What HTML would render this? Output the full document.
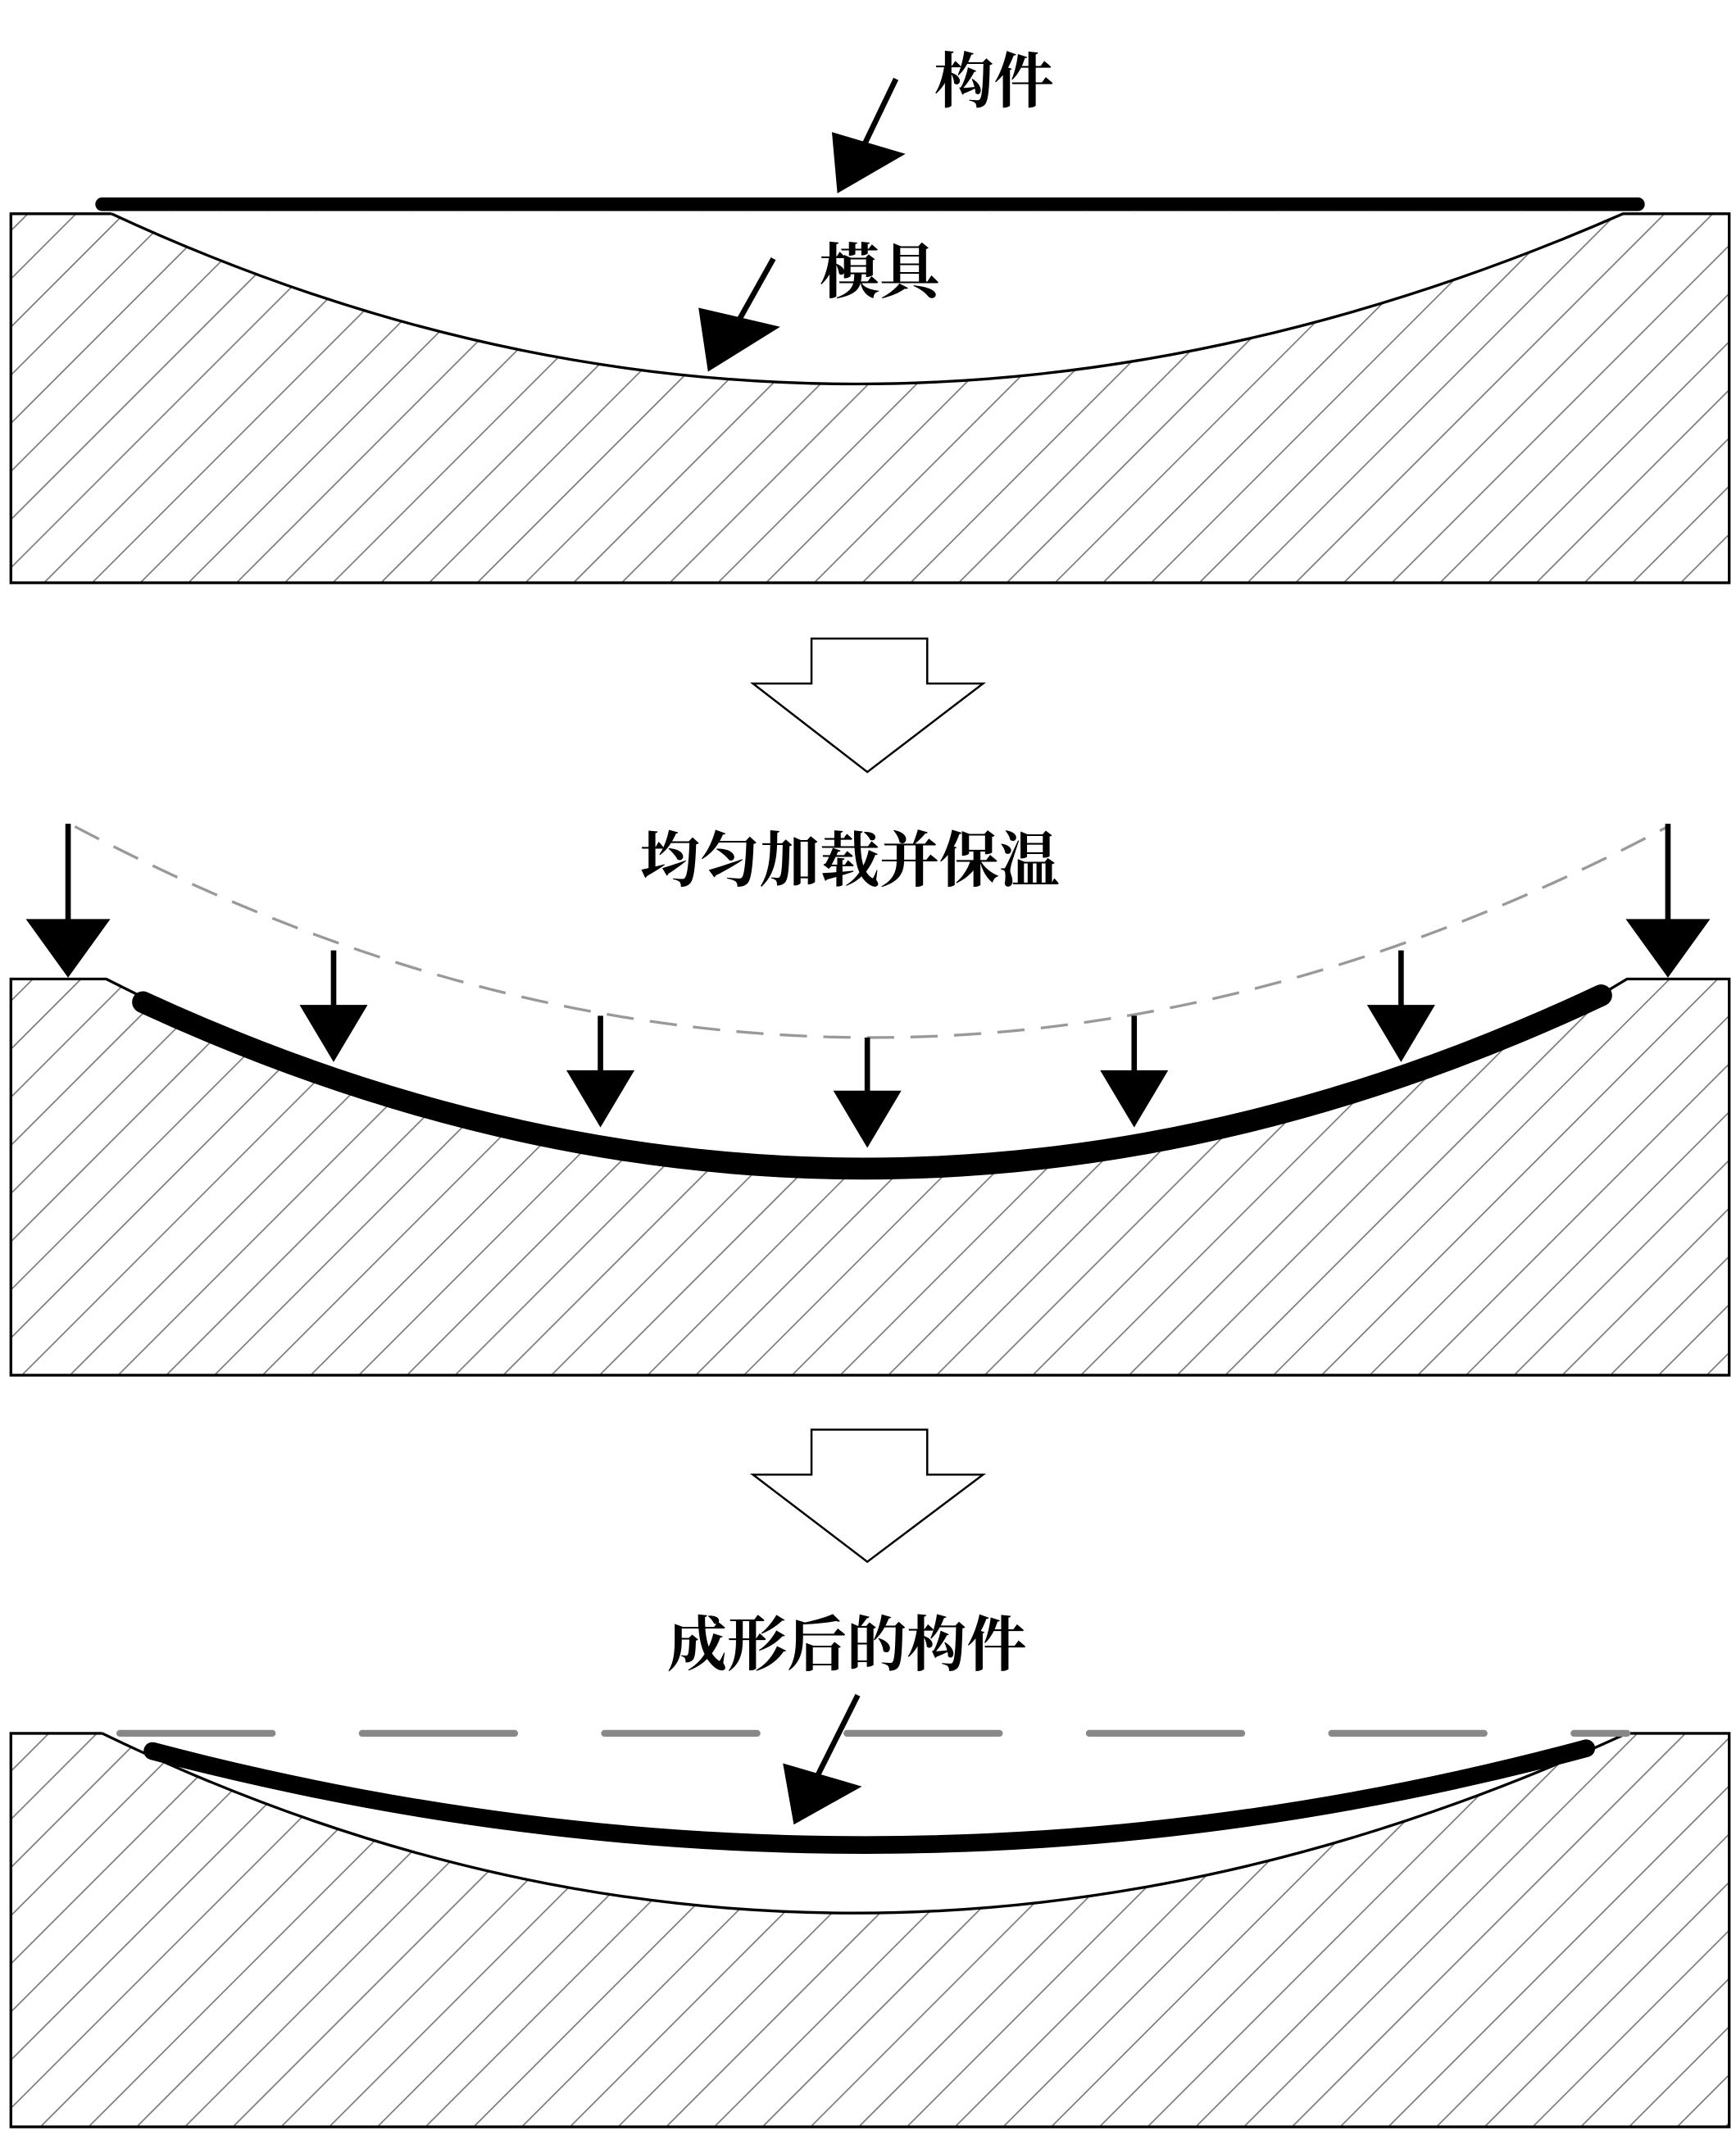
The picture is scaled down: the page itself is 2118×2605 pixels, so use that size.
<!DOCTYPE html>
<html><head><meta charset="utf-8"><style>html,body{margin:0;padding:0;background:#fff}svg{display:block}</style></head>
<body>
<svg width="2118" height="2605" viewBox="0 0 1275 1568" preserveAspectRatio="none" xmlns="http://www.w3.org/2000/svg">
<defs>
<pattern id="h" patternUnits="userSpaceOnUse" width="25" height="25" patternTransform="rotate(45)">
<line x1="0" y1="0" x2="0" y2="25" stroke="#777" stroke-width="2"/>
</pattern>
</defs>
<style>text{font-family:"Liberation Serif","Noto Serif CJK SC",serif;font-size:44px;fill:#000;font-weight:bold}</style>

<!-- Panel 1 -->
<rect x="8" y="157" width="1262" height="271" fill="url(#h)"/>
<path d="M82,157 Q620,407 1192,157 Z" fill="#fff"/>
<path d="M82,157 L8,157 L8,428 L1270,428 L1270,157 L1192,157 Q620,407 82,157" fill="none" stroke="#000" stroke-width="2"/>
<line x1="75" y1="150" x2="1203" y2="150" stroke="#000" stroke-width="10" stroke-linecap="round"/>
<text x="686" y="75">构件</text>
<line x1="658" y1="58" x2="633" y2="110" stroke="#000" stroke-width="4"/>
<polygon points="615,142 611,97 665,113"/>
<text x="602" y="215">模具</text>
<line x1="568" y1="190" x2="540" y2="240" stroke="#000" stroke-width="4"/>
<polygon points="520,273 513,226 573,240"/>

<!-- hollow arrow 1 -->
<polygon points="596,469 681,469 681,502 722,502 637,567 553,502 596,502" fill="#fff" stroke="#000" stroke-width="1.5"/>
<text x="470" y="647">均匀加载并保温</text>

<!-- Panel 2 -->
<rect x="8" y="719" width="1262" height="291" fill="url(#h)"/>
<path d="M78,719 L100,730 Q640,985 1180,728 L1195,719 Z" fill="#fff"/>
<path d="M78,719 L8,719 L8,1010 L1270,1010 L1270,719 L1195,719 L1180,728 Q640,985 100,730 Z" fill="none" stroke="#000" stroke-width="2"/>
<path d="M55,607 Q640,917 1225,607" fill="none" stroke="#999" stroke-width="2" stroke-dasharray="20,12"/>
<path d="M105,736 Q640,983 1176,731" fill="none" stroke="#000" stroke-width="16" stroke-linecap="round"/>
<g fill="#000" stroke="#000">
<line x1="50" y1="605" x2="50" y2="680" stroke-width="4"/><polygon points="19,675 81,675 50,718" stroke="none"/>
<line x1="1225" y1="605" x2="1225" y2="680" stroke-width="4"/><polygon points="1194,675 1256,675 1225,718" stroke="none"/>
<line x1="245" y1="698" x2="245" y2="745" stroke-width="4"/><polygon points="220,738 270,738 245,780" stroke="none"/>
<line x1="441" y1="746" x2="441" y2="793" stroke-width="4"/><polygon points="416,786 466,786 441,828" stroke="none"/>
<line x1="637" y1="762" x2="637" y2="808" stroke-width="4"/><polygon points="612,801 662,801 637,843" stroke="none"/>
<line x1="833" y1="746" x2="833" y2="793" stroke-width="4"/><polygon points="808,786 858,786 833,828" stroke="none"/>
<line x1="1029" y1="698" x2="1029" y2="745" stroke-width="4"/><polygon points="1004,738 1054,738 1029,780" stroke="none"/>
</g>

<!-- hollow arrow 2 -->
<polygon points="596,1050 681,1050 681,1083 722,1083 637,1147 553,1083 596,1083" fill="#fff" stroke="#000" stroke-width="1.5"/>
<text x="490" y="1223">成形后的构件</text>

<!-- Panel 3 -->
<rect x="8" y="1273" width="1262" height="289" fill="url(#h)"/>
<path d="M75,1273 Q620,1537 1195,1273 Z" fill="#fff"/>
<path d="M75,1273 L8,1273 L8,1562 L1270,1562 L1270,1273 L1195,1273 Q620,1537 75,1273" fill="none" stroke="#000" stroke-width="2"/>
<line x1="88" y1="1273" x2="1195" y2="1273" stroke="#888" stroke-width="5" stroke-dasharray="112,66" stroke-linecap="round"/>
<path d="M112,1286 Q640,1425 1165,1284" fill="none" stroke="#000" stroke-width="13" stroke-linecap="round"/>
<line x1="630" y1="1245" x2="600" y2="1305" stroke="#000" stroke-width="4"/>
<polygon points="583,1340 575,1295 633,1312"/>
</svg>
</body></html>
